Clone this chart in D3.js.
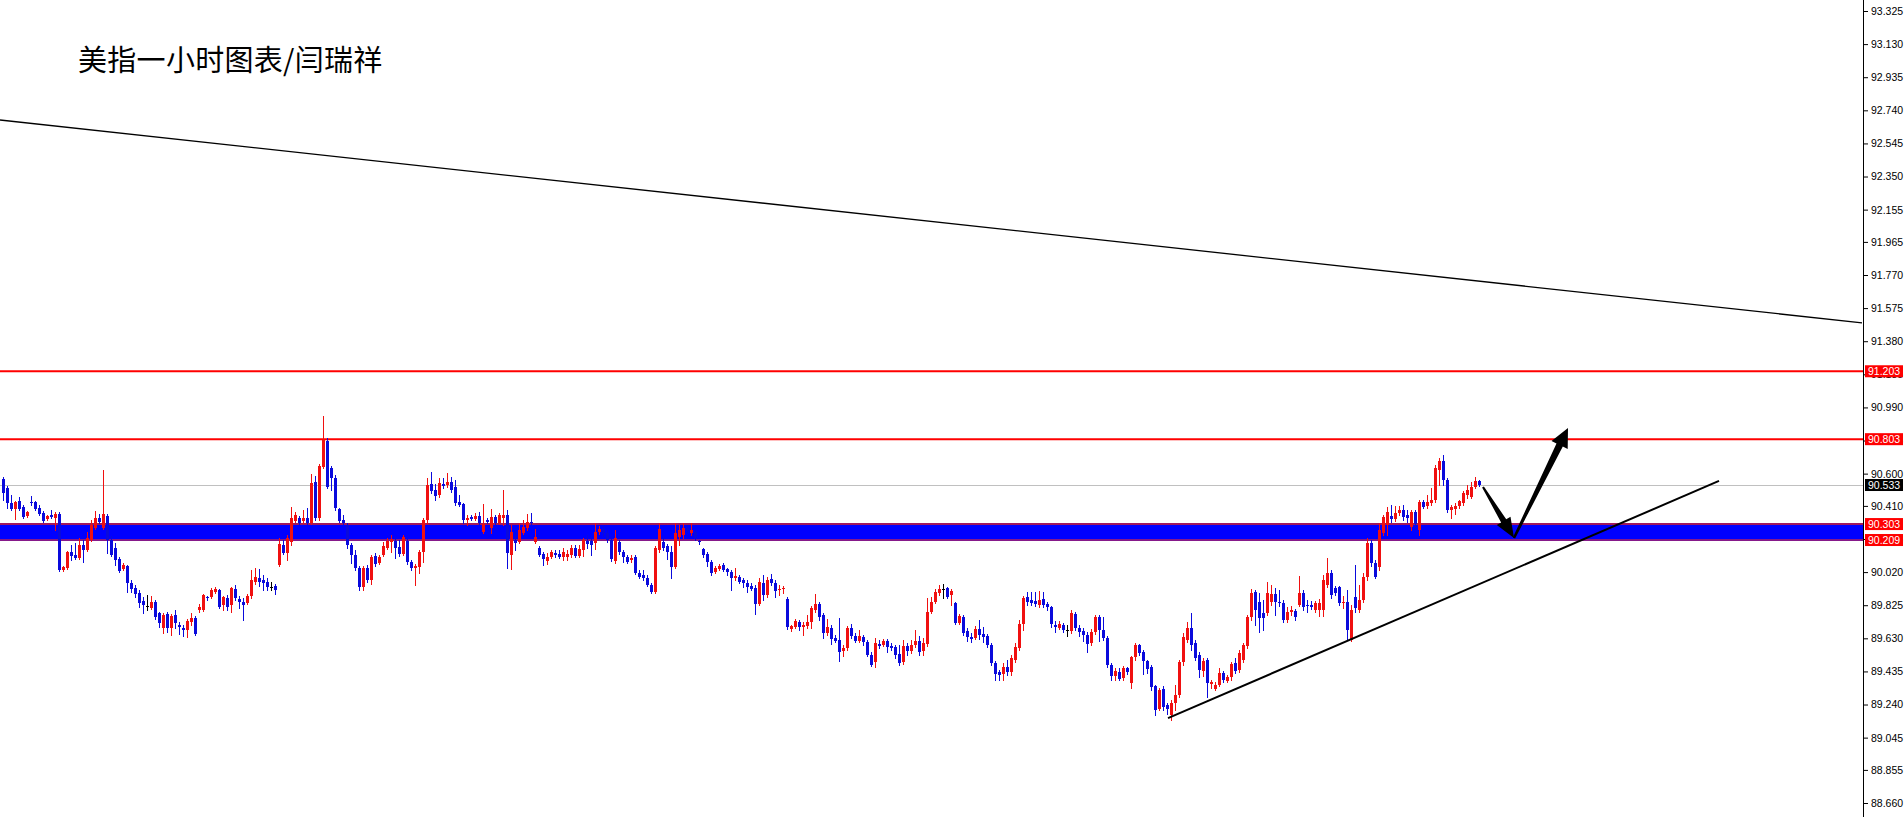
<!DOCTYPE html>
<html><head><meta charset="utf-8">
<script src="https://cdn.jsdelivr.net/npm/d3@7"></script>
<style>html,body{margin:0;padding:0;background:#fff;overflow:hidden}</style>
</head><body>
<svg id="c" width="1904" height="817"></svg>
<script>
const title = "美指一小时图表/闫瑞祥";
const opens = [
90.569,90.516,90.427,90.392,90.439,90.404,90.351,90.433,90.433,90.398,
90.368,90.333,90.357,90.339,90.362,90.033,90.044,90.139,90.121,90.103,
90.180,90.151,90.209,90.280,90.339,90.280,90.351,90.209,90.162,90.097,
90.038,90.056,89.956,89.926,89.897,89.850,89.820,89.808,89.844,89.779,
89.690,89.773,89.690,89.767,89.708,89.690,89.679,89.726,89.749,89.797,
89.797,89.873,89.873,89.903,89.915,89.826,89.867,89.826,89.920,89.861,
89.844,89.838,89.879,89.962,89.985,89.974,89.962,89.932,89.938,90.062,
90.180,90.133,90.197,90.321,90.339,90.321,90.339,90.309,90.551,90.339,
90.640,90.793,90.634,90.575,90.392,90.327,90.298,90.180,90.121,90.044,
89.932,90.044,89.974,90.115,90.074,90.121,90.162,90.197,90.203,90.168,
90.127,90.203,90.080,90.044,90.050,90.139,90.327,90.539,90.504,90.475,
90.539,90.534,90.551,90.522,90.433,90.421,90.327,90.345,90.333,90.351,
90.256,90.327,90.280,90.345,90.309,90.339,90.357,90.121,90.209,90.197,
90.250,90.280,90.315,90.197,90.162,90.127,90.086,90.109,90.133,90.127,
90.109,90.109,90.121,90.162,90.115,90.151,90.203,90.203,90.191,90.256,
90.274,90.250,90.209,90.086,90.197,90.139,90.109,90.092,90.109,90.015,
90.003,89.985,89.944,89.903,90.151,90.197,90.174,90.139,90.050,90.227,
90.239,90.280,90.250,90.256,90.203,90.156,90.127,90.080,90.021,90.038,
90.062,90.038,90.021,89.985,89.991,89.974,89.956,89.938,89.926,89.832,
89.956,89.885,89.979,89.956,89.915,89.920,89.861,89.684,89.696,89.726,
89.696,89.702,89.726,89.797,89.832,89.767,89.661,89.690,89.631,89.620,
89.555,89.573,89.690,89.643,89.614,89.637,89.608,89.532,89.491,89.596,
89.591,89.614,89.585,89.579,89.537,89.491,89.585,89.555,89.591,89.614,
89.555,89.596,89.785,89.844,89.897,89.920,89.926,89.885,89.838,89.720,
89.755,89.673,89.637,89.631,89.684,89.655,89.643,89.591,89.485,89.432,
89.420,89.461,89.432,89.503,89.573,89.714,89.873,89.856,89.850,89.826,
89.861,89.832,89.814,89.708,89.690,89.708,89.679,89.673,89.773,89.690,
89.673,89.649,89.602,89.667,89.755,89.679,89.631,89.473,89.408,89.432,
89.396,89.455,89.367,89.520,89.591,89.549,89.497,89.461,89.349,89.213,
89.331,89.237,89.178,89.249,89.296,89.491,89.620,89.690,89.602,89.532,
89.438,89.503,89.361,89.331,89.355,89.426,89.379,89.402,89.485,89.444,
89.503,89.585,89.755,89.903,89.844,89.779,89.779,89.844,89.891,89.844,
89.838,89.738,89.785,89.791,89.826,89.897,89.826,89.826,89.797,89.797,
89.797,89.944,90.015,89.926,89.932,89.838,89.844,89.620,89.873,89.797,
89.856,89.991,90.191,90.074,90.050,90.250,90.298,90.351,90.333,90.368,
90.386,90.357,90.286,90.374,90.268,90.433,90.410,90.427,90.445,90.622,
90.675,90.563,90.386,90.392,90.410,90.427,90.475,90.463,90.522,90.557];
const highs = [
90.581,90.528,90.475,90.439,90.463,90.416,90.380,90.469,90.439,90.416,
90.380,90.357,90.386,90.374,90.374,90.056,90.145,90.180,90.191,90.221,
90.209,90.256,90.327,90.380,90.362,90.622,90.362,90.233,90.191,90.109,
90.074,90.062,89.974,89.944,89.915,89.873,89.885,89.879,89.856,89.785,
89.779,89.785,89.773,89.797,89.726,89.708,89.743,89.779,89.761,89.832,
89.891,89.879,89.926,89.932,89.920,89.879,89.885,89.932,89.944,89.879,
89.867,89.891,90.033,90.044,90.038,90.003,89.985,89.962,89.950,90.221,
90.209,90.239,90.404,90.374,90.351,90.386,90.398,90.598,90.587,90.657,
90.940,90.810,90.646,90.593,90.398,90.357,90.309,90.191,90.151,90.056,
90.056,90.062,90.121,90.133,90.121,90.197,90.221,90.239,90.227,90.209,
90.239,90.227,90.092,90.068,90.151,90.339,90.575,90.610,90.539,90.575,
90.575,90.604,90.581,90.563,90.475,90.427,90.357,90.357,90.368,90.374,
90.421,90.339,90.392,90.357,90.368,90.504,90.386,90.298,90.256,90.309,
90.327,90.362,90.368,90.274,90.174,90.139,90.133,90.151,90.151,90.151,
90.162,90.151,90.180,90.180,90.180,90.221,90.239,90.221,90.309,90.292,
90.292,90.268,90.221,90.268,90.209,90.151,90.121,90.121,90.121,90.033,
90.033,90.003,89.956,90.174,90.309,90.221,90.185,90.174,90.309,90.298,
90.309,90.298,90.309,90.268,90.209,90.162,90.139,90.092,90.056,90.068,
90.074,90.044,90.033,90.044,90.003,89.985,89.974,89.956,89.944,89.985,
90.003,89.991,90.009,89.974,89.944,89.938,89.873,89.708,89.743,89.738,
89.726,89.767,89.820,89.891,89.844,89.779,89.743,89.708,89.649,89.749,
89.591,89.702,89.714,89.661,89.679,89.649,89.620,89.549,89.631,89.620,
89.626,89.626,89.602,89.591,89.591,89.620,89.602,89.620,89.679,89.643,
89.631,89.867,89.873,89.920,89.944,89.950,89.932,89.920,89.844,89.773,
89.767,89.690,89.661,89.702,89.738,89.696,89.655,89.602,89.497,89.444,
89.485,89.503,89.532,89.602,89.738,89.879,89.903,89.903,89.903,89.909,
89.903,89.844,89.820,89.732,89.732,89.720,89.708,89.797,89.785,89.708,
89.690,89.667,89.684,89.767,89.767,89.755,89.643,89.485,89.455,89.455,
89.467,89.461,89.526,89.602,89.596,89.561,89.503,89.473,89.355,89.337,
89.349,89.249,89.267,89.355,89.503,89.661,89.726,89.779,89.620,89.549,
89.514,89.514,89.385,89.373,89.455,89.438,89.414,89.491,89.514,89.561,
89.602,89.767,89.920,89.915,89.897,89.856,89.962,89.944,89.926,89.915,
89.856,89.814,89.820,89.802,89.997,89.915,89.856,89.850,89.850,89.861,
90.003,90.103,90.033,89.938,89.938,89.879,89.915,89.826,90.062,89.944,
90.015,90.221,90.209,90.092,90.309,90.357,90.404,90.416,90.410,90.410,
90.416,90.386,90.386,90.386,90.445,90.445,90.475,90.516,90.652,90.693,
90.711,90.575,90.416,90.427,90.445,90.498,90.534,90.551,90.581,90.563];
const lows = [
90.445,90.398,90.386,90.333,90.386,90.339,90.345,90.416,90.386,90.357,
90.315,90.327,90.339,90.268,90.027,90.027,90.038,90.092,90.097,90.097,
90.080,90.145,90.203,90.274,90.309,90.274,90.133,90.115,90.062,90.021,
90.033,89.903,89.903,89.873,89.814,89.779,89.797,89.802,89.743,89.696,
89.661,89.667,89.649,89.690,89.655,89.643,89.637,89.708,89.649,89.785,
89.791,89.856,89.867,89.897,89.808,89.797,89.797,89.785,89.856,89.808,
89.738,89.832,89.867,89.950,89.938,89.915,89.915,89.915,89.891,90.056,
90.127,90.092,90.180,90.315,90.303,90.309,90.303,90.303,90.327,90.327,
90.634,90.516,90.504,90.386,90.315,90.303,90.162,90.074,90.033,89.915,
89.915,89.962,89.950,90.056,90.068,90.115,90.156,90.139,90.103,90.115,
90.121,90.068,90.033,89.944,90.015,90.080,90.309,90.486,90.445,90.463,
90.516,90.522,90.492,90.416,90.410,90.309,90.298,90.327,90.327,90.303,
90.250,90.309,90.250,90.303,90.303,90.298,90.044,90.038,90.151,90.191,
90.244,90.268,90.298,90.191,90.115,90.062,90.068,90.103,90.109,90.103,
90.092,90.092,90.109,90.109,90.109,90.115,90.162,90.121,90.156,90.244,
90.233,90.197,90.086,90.074,90.127,90.080,90.074,90.080,90.009,89.985,
89.974,89.938,89.897,89.897,90.139,90.151,90.097,89.985,90.044,90.180,
90.221,90.250,90.239,90.209,90.185,90.109,90.056,90.003,90.015,90.033,
90.027,90.003,89.915,89.974,89.956,89.932,89.903,89.915,89.773,89.826,
89.856,89.873,89.944,89.873,89.885,89.897,89.684,89.673,89.690,89.679,
89.649,89.690,89.690,89.785,89.738,89.631,89.649,89.596,89.608,89.497,
89.526,89.561,89.631,89.608,89.608,89.591,89.526,89.467,89.461,89.573,
89.585,89.549,89.561,89.514,89.473,89.479,89.532,89.543,89.579,89.532,
89.532,89.585,89.779,89.838,89.885,89.867,89.867,89.826,89.714,89.714,
89.649,89.614,89.608,89.626,89.626,89.608,89.579,89.473,89.385,89.385,
89.385,89.414,89.414,89.491,89.561,89.679,89.826,89.826,89.820,89.814,
89.814,89.797,89.696,89.667,89.684,89.667,89.643,89.661,89.679,89.643,
89.614,89.549,89.591,89.655,89.614,89.620,89.461,89.385,89.385,89.385,
89.385,89.420,89.337,89.503,89.532,89.420,89.426,89.326,89.178,89.208,
89.208,89.184,89.149,89.208,89.284,89.473,89.608,89.561,89.503,89.402,
89.408,89.284,89.337,89.326,89.349,89.373,89.373,89.385,89.426,89.432,
89.491,89.573,89.738,89.708,89.667,89.679,89.767,89.826,89.767,89.820,
89.726,89.726,89.767,89.738,89.820,89.797,89.785,89.802,89.785,89.761,
89.761,89.932,89.867,89.885,89.826,89.808,89.620,89.614,89.785,89.785,
89.844,89.974,90.056,89.985,90.033,90.239,90.239,90.315,90.321,90.357,
90.327,90.315,90.268,90.286,90.239,90.398,90.398,90.416,90.433,90.534,
90.534,90.374,90.339,90.362,90.398,90.416,90.457,90.457,90.516,90.528];
const closes = [
90.486,90.427,90.392,90.433,90.392,90.345,90.374,90.427,90.392,90.362,
90.321,90.351,90.345,90.362,90.033,90.050,90.139,90.115,90.103,90.180,
90.151,90.221,90.298,90.339,90.315,90.362,90.209,90.121,90.092,90.027,
90.062,89.956,89.920,89.891,89.838,89.826,89.820,89.844,89.755,89.720,
89.767,89.690,89.761,89.720,89.696,89.679,89.732,89.749,89.655,89.814,
89.885,89.867,89.915,89.920,89.814,89.873,89.814,89.926,89.867,89.844,
89.826,89.879,89.974,89.991,89.962,89.956,89.932,89.932,89.915,90.185,
90.133,90.221,90.339,90.357,90.309,90.339,90.309,90.545,90.339,90.646,
90.798,90.522,90.575,90.398,90.321,90.309,90.180,90.121,90.044,89.932,
90.044,89.974,90.109,90.068,90.109,90.174,90.203,90.215,90.162,90.127,
90.227,90.080,90.044,90.056,90.139,90.327,90.534,90.498,90.469,90.545,
90.528,90.551,90.504,90.427,90.416,90.327,90.339,90.333,90.351,90.309,
90.303,90.315,90.345,90.309,90.357,90.357,90.133,90.256,90.191,90.268,
90.286,90.315,90.309,90.227,90.121,90.097,90.109,90.139,90.121,90.109,
90.139,90.127,90.162,90.115,90.156,90.209,90.185,90.180,90.256,90.274,
90.250,90.209,90.097,90.221,90.139,90.109,90.080,90.103,90.015,89.991,
89.985,89.944,89.903,90.162,90.274,90.162,90.139,90.050,90.250,90.268,
90.280,90.262,90.268,90.221,90.197,90.121,90.080,90.015,90.044,90.056,
90.033,90.021,89.985,89.997,89.962,89.956,89.932,89.920,89.832,89.962,
89.885,89.974,89.956,89.909,89.920,89.926,89.696,89.702,89.732,89.696,
89.708,89.726,89.808,89.832,89.755,89.661,89.696,89.626,89.614,89.549,
89.573,89.690,89.643,89.614,89.643,89.608,89.532,89.473,89.602,89.585,
89.614,89.579,89.573,89.532,89.485,89.585,89.555,89.591,89.614,89.549,
89.602,89.785,89.844,89.903,89.920,89.920,89.873,89.909,89.720,89.761,
89.661,89.637,89.626,89.684,89.649,89.637,89.591,89.485,89.420,89.414,
89.461,89.432,89.514,89.579,89.714,89.867,89.844,89.838,89.832,89.856,
89.826,89.814,89.714,89.696,89.714,89.679,89.679,89.779,89.690,89.667,
89.649,89.596,89.667,89.755,89.679,89.631,89.473,89.408,89.438,89.390,
89.455,89.432,89.520,89.591,89.543,89.497,89.449,89.343,89.208,89.326,
89.225,89.213,89.249,89.296,89.491,89.637,89.690,89.591,89.514,89.444,
89.497,89.367,89.373,89.355,89.426,89.385,89.402,89.479,89.438,89.543,
89.591,89.755,89.897,89.797,89.749,89.749,89.897,89.891,89.844,89.838,
89.738,89.785,89.797,89.755,89.897,89.814,89.820,89.814,89.838,89.838,
89.974,90.015,89.885,89.897,89.838,89.844,89.679,89.797,89.808,89.856,
89.991,90.191,90.074,89.991,90.268,90.345,90.374,90.333,90.368,90.386,
90.345,90.339,90.374,90.303,90.433,90.404,90.433,90.445,90.634,90.675,
90.563,90.386,90.404,90.410,90.439,90.486,90.504,90.522,90.557,90.533];

const tickLabels = ["93.325","93.130","92.935","92.740","92.545","92.350","92.155","91.965","91.770","91.575","91.380","91.185","90.990","90.795","90.600","90.410","90.215","90.020","89.825","89.630","89.435","89.240","89.045","88.855","88.660"];
const resistanceLevels = [91.203, 90.803];
const zoneTop = 90.303, zoneBottom = 90.209;
const bidPrice = 90.533;
// annotations in [bar index, price]
const downTrend = [[-0.75, 92.683], [464.75, 91.488]];
const upTrend = [[291.25, 89.160], [429, 90.557]];
const arrowDown = [[370, 90.522], [377.75, 90.221]];
const arrowUp = [[377.75, 90.221], [391.25, 90.869]];

const W = 1904, H = 817, axisX = 1863;
const svg = d3.select("#c");
const font = "'Liberation Sans', Arial, sans-serif";

const x = d3.scaleLinear().domain([0, opens.length - 1]).range([3, 1479]);
const y = d3.scaleLinear().domain([88.660, 93.325]).range([803, 11]);

svg.append("rect").attr("width", W).attr("height", H).attr("fill", "#fff");
svg.append("defs").append("clipPath").attr("id", "plot")
  .append("rect").attr("x", 0).attr("y", 0).attr("width", axisX).attr("height", H);
const plot = svg.append("g").attr("clip-path", "url(#plot)");

// zone
plot.append("rect").attr("x", 0).attr("width", axisX)
  .attr("y", y(zoneTop)).attr("height", y(zoneBottom) - y(zoneTop)).attr("fill", "#0000ff");
plot.append("line").attr("x1", 0).attr("x2", axisX).attr("y1", y(zoneTop)).attr("y2", y(zoneTop))
  .attr("stroke", "#a0185e").attr("stroke-width", 2);
plot.append("line").attr("x1", 0).attr("x2", axisX).attr("y1", y(zoneBottom)).attr("y2", y(zoneBottom))
  .attr("stroke", "#86198a").attr("stroke-width", 2);

// bid line
plot.append("line").attr("x1", 0).attr("x2", axisX)
  .attr("y1", Math.round(y(bidPrice)) + 0.5).attr("y2", Math.round(y(bidPrice)) + 0.5)
  .attr("stroke", "#c0c0c0").attr("stroke-width", 1);

// red levels
plot.selectAll("line.lvl").data(resistanceLevels).join("line").attr("class", "lvl")
  .attr("x1", 0).attr("x2", axisX).attr("y1", d => y(d)).attr("y2", d => y(d))
  .attr("stroke", "#ff0000").attr("stroke-width", 2);

// candles
const idx = d3.range(opens.length);
const col = i => closes[i] > opens[i] ? "#f01010" : (closes[i] < opens[i] ? "#0a0adc" : "#000");
const cg = plot.append("g");
cg.selectAll("line.w").data(idx).join("line").attr("class", "w")
  .attr("x1", i => Math.round(x(i)) + 0.5).attr("x2", i => Math.round(x(i)) + 0.5)
  .attr("y1", i => Math.round(y(highs[i]))).attr("y2", i => Math.round(y(lows[i])) + 1)
  .attr("stroke", col).attr("stroke-width", 1);
cg.selectAll("rect.b").data(idx).join("rect").attr("class", "b")
  .attr("x", i => Math.round(x(i)) - 1).attr("width", 3)
  .attr("y", i => Math.round(y(Math.max(opens[i], closes[i]))))
  .attr("height", i => Math.max(1, Math.round(y(Math.min(opens[i], closes[i]))) - Math.round(y(Math.max(opens[i], closes[i])))))
  .attr("fill", col);

// trend lines
const line = d3.line().x(d => x(d[0])).y(d => y(d[1]));
plot.append("path").attr("d", line(downTrend)).attr("stroke", "#000").attr("stroke-width", 1.3).attr("fill", "none");
plot.append("path").attr("d", line(upTrend)).attr("stroke", "#000").attr("stroke-width", 2).attr("fill", "none");

// arrows
function arrowPath(a, b, w0, w1, headLen, headHalf) {
  const p0 = [x(a[0]), y(a[1])], p1 = [x(b[0]), y(b[1])];
  const dx = p1[0] - p0[0], dy = p1[1] - p0[1], L = Math.hypot(dx, dy);
  const ux = dx / L, uy = dy / L, nx = -uy, ny = ux;
  const bx = p1[0] - ux * headLen, by = p1[1] - uy * headLen;
  const pts = [
    [p0[0] + nx * w0 / 2, p0[1] + ny * w0 / 2],
    [bx + nx * w1 / 2, by + ny * w1 / 2],
    [bx + nx * headHalf, by + ny * headHalf],
    p1,
    [bx - nx * headHalf, by - ny * headHalf],
    [bx - nx * w1 / 2, by - ny * w1 / 2],
    [p0[0] - nx * w0 / 2, p0[1] - ny * w0 / 2]];
  return "M" + pts.map(p => p[0].toFixed(1) + "," + p[1].toFixed(1)).join("L") + "Z";
}
plot.append("path").attr("d", arrowPath(arrowDown[0], arrowDown[1], 2, 6, 20, 8)).attr("fill", "#000");
plot.append("path").attr("d", arrowPath(arrowUp[0], arrowUp[1], 2.5, 7, 19, 9)).attr("fill", "#000");

// title
svg.append("text").attr("x", 78).attr("y", 71).text(title)
  .attr("font-family", "'Noto Sans CJK SC', sans-serif").attr("font-size", 29)
  .attr("letter-spacing", 0.3).attr("fill", "#000");

// axis
svg.append("line").attr("x1", axisX + 0.5).attr("x2", axisX + 0.5).attr("y1", 0).attr("y2", H)
  .attr("stroke", "#000").attr("stroke-width", 1);
const axis = d3.axisRight(y).tickValues(tickLabels.map(Number)).tickFormat((d, i) => tickLabels[i])
  .tickSize(4).tickSizeOuter(0).tickPadding(3);
const ag = svg.append("g").attr("transform", `translate(${axisX + 1},0)`).call(axis);
ag.select(".domain").remove();
ag.selectAll("text").attr("font-family", font).attr("font-size", 10.5).attr("fill", "#000");
ag.selectAll("line").attr("stroke", "#000");

// price labels
function priceLabel(v, bg) {
  const yy = y(v);
  svg.append("rect").attr("x", axisX + 2).attr("y", yy - 6).attr("width", 38).attr("height", 12).attr("fill", bg);
  svg.append("text").attr("x", axisX + 5).attr("y", yy).attr("dy", "0.35em").text(d3.format(".3f")(v))
    .attr("font-family", font).attr("font-size", 10.5).attr("fill", "#fff");
}
resistanceLevels.forEach(v => priceLabel(v, "#ff0000"));
priceLabel(zoneTop, "#ff0000");
priceLabel(zoneBottom, "#ff0000");
priceLabel(bidPrice, "#000");
</script>
</body></html>
